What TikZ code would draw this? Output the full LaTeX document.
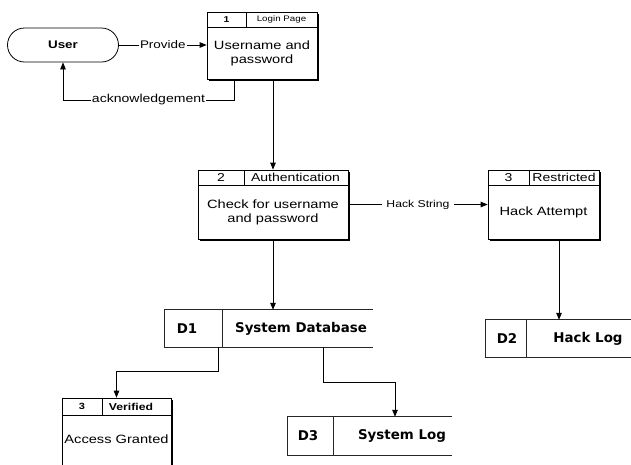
\documentclass[tikz,border=0pt]{standalone}
\usepackage{fontspec}
\setmainfont{Liberation Sans}[FakeStretch=1.22]
\newfontfamily\storefont{DejaVu Sans}
\usetikzlibrary{arrows.meta,shadows}
\tikzset{
  flow/.style={-{Triangle[length=7pt,width=5.5pt]}, line width=0.8pt},
  proc/.style={draw, fill=white, line width=0.7pt, inner sep=0pt,
    drop shadow={shadow xshift=1.8pt, shadow yshift=-1.8pt, opacity=1, fill=black}},
  proctext/.style={font=\fontsize{12}{14}\selectfont, align=center},
  head/.style={font=\fontsize{8}{9}\selectfont},
  bighead/.style={font=\fontsize{11.5}{12}\selectfont},
  store/.style={inner sep=0pt},
  storetext/.style={font=\storefont\bfseries\fontsize{13.4}{15}\selectfont},
  edgelabel/.style={fill=white, inner sep=1pt, font=\fontsize{11}{12}\selectfont},
  entity/.style={draw, line width=0.8pt, rounded corners=17pt, minimum width=111pt,
    minimum height=34pt, font=\bfseries\fontsize{11}{13}\selectfont}
}
\begin{document}
\begin{tikzpicture}[x=1pt, y=-1pt]
  \useasboundingbox (0,0) rectangle (631,464);
  \clip (0,0) rectangle (631,464);
  % external entity
  \node[entity] (user) at (63,45) {User};
  % processes
  \node[proc, minimum width=110pt, minimum height=67pt] (p1) at (262,45.5) {};
  \node[proc, minimum width=150pt, minimum height=69pt] (p2) at (273,204.5) {};
  \node[proc, minimum width=111pt, minimum height=69pt] (p3) at (543.5,204.5) {};
  \node[proc, minimum width=109pt, minimum height=70pt] (p4) at (116.5,433) {};
  \draw[line width=0.7pt] (207,27) -- (317,27) (246,12) -- (246,27);
  \draw[line width=0.7pt] (198,185) -- (348,185) (244,170) -- (244,185);
  \draw[line width=0.7pt] (488,185) -- (599,185) (529,170) -- (529,185);
  \draw[line width=0.7pt] (62,415) -- (171,415) (102,398) -- (102,415);
  \node[head, font=\bfseries\fontsize{8.5}{9}\selectfont] (p1n) at (226.5,19.5) {1};
  \node[head] (p1h) at (281.5,19.5) {Login Page};
  \node[proctext] (p1t) at (262,53) {Username and\\password};
  \node[bighead] (p2n) at (221,177.5) {2};
  \node[bighead] (p2h) at (295.5,177.5) {Authentication};
  \node[proctext] (p2t) at (273,212) {Check for username\\and password};
  \node[bighead] (p3n) at (508.5,177.5) {3};
  \node[bighead] (p3h) at (564,177.5) {Restricted};
  \node[proctext] (p3t) at (543.5,212) {Hack Attempt};
  \node[head, font=\bfseries\fontsize{9}{10}\selectfont] (p4n) at (82,406.5) {3};
  \node[head, font=\bfseries\fontsize{10}{11}\selectfont] (p4h) at (131,406.5) {Verified};
  \node[proctext] (p4t) at (116.5,439) {Access Granted};
  % data stores
  \node[store, minimum width=208pt, minimum height=37pt] (ds1) at (269,328.5) {};
  \node[store, minimum width=154pt, minimum height=37pt] (ds2) at (563,338.5) {};
  \node[store, minimum width=164pt, minimum height=38pt] (ds3) at (370,436) {};
  \draw[line width=0.8pt, black!85] (ds1.north east) -- (ds1.north west) -- (ds1.south west) -- (ds1.south east) (222,310) -- (222,347);
  \draw[line width=0.8pt, black!85] (ds2.north east) -- (ds2.north west) -- (ds2.south west) -- (ds2.south east) (526,320) -- (526,357);
  \draw[line width=0.8pt, black!85] (ds3.north east) -- (ds3.north west) -- (ds3.south west) -- (ds3.south east) (333,417) -- (333,455);
  \node[storetext] (ds1n) at (187,328.5) {D1};
  \node[storetext] (ds1t) at (301,328.5) {System Database};
  \node[storetext] (ds2n) at (507,338.5) {D2};
  \node[storetext] (ds2t) at (588,338.5) {Hack Log};
  \node[storetext] (ds3n) at (308,436) {D3};
  \node[storetext] (ds3t) at (402,436) {System Log};
  % flows
  \begin{scope}[flow]
    \draw (user.east) -- node[edgelabel] {Provide} (user.east -| p1.west);
    \draw ([xshift=-28pt]p1.south) |- node[edgelabel, pos=0.75, font=\fontsize{11.5}{12}\selectfont] {acknowledgement} (63,100) -- (user.south);
    \draw (p1.south -| p2.north) -- (p2.north);
    \draw (p2.east) -- node[edgelabel, font=\fontsize{10}{11}\selectfont, inner sep=4pt] {Hack String} (p3.west);
    \draw (p2.south) -- (p2.south |- ds1.north);
    \draw ([xshift=15.5pt]p3.south) -- ([xshift=15.5pt]p3.south |- ds2.north);
    \draw ([xshift=-51pt]ds1.south) -- ++(0,24) -| (p4.north);
    \draw ([xshift=54pt]ds1.south) -- ++(0,35) -| ([xshift=25pt]ds3.north);
  \end{scope}
\end{tikzpicture}
\end{document}
